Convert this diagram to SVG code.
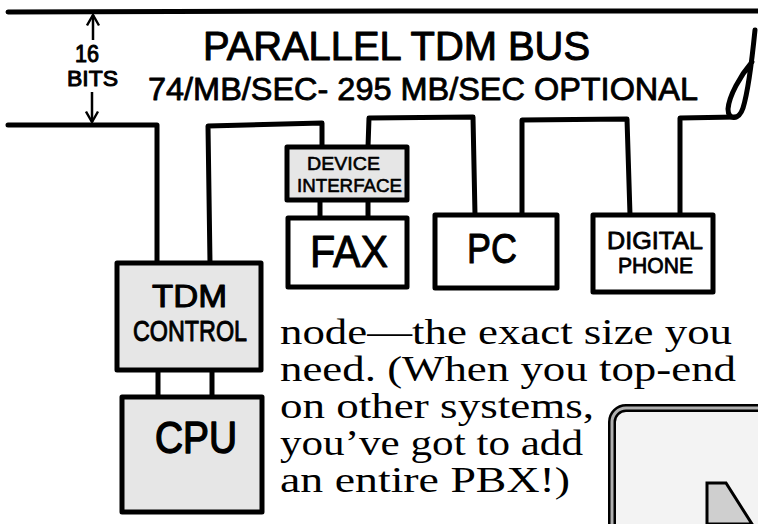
<svg xmlns="http://www.w3.org/2000/svg" width="758" height="524" viewBox="0 0 758 524">
<defs>
<style>
.bus{fill:none;stroke:#000;stroke-width:5;stroke-linecap:round;stroke-linejoin:round}
.box{stroke:#000;stroke-width:5;stroke-linejoin:round}
.gray{fill:#e6e6e6}
.white{fill:#fff}
.hand{font-family:"Liberation Sans","DejaVu Sans",sans-serif;fill:#000;stroke:#000;stroke-linejoin:round}
.prose{font-family:"Liberation Serif","DejaVu Serif",serif;font-size:36px;fill:#000}
</style>
<marker id="ah" viewBox="0 0 10 10" refX="8" refY="5" markerWidth="6" markerHeight="6" orient="auto">
<path d="M1 1 L8 5 L1 9" fill="none" stroke="#000" stroke-width="1.6"/>
</marker>
</defs>
<rect width="758" height="524" fill="#fff"/>

<g id="bus">
<path class="bus" d="M8 12 L400 11 L758 11"/>
<path class="bus" d="M755 30 C752 60 748 92 743 108 C739 120 728 121 728 109 C729 96 740 76 752 62"/>
</g>

<g id="connectors">
<path class="bus" d="M8 125 L157 125 L157 263"/>
<path class="bus" d="M210 263 L208 126 L322 123 L322 147"/>
<path class="bus" d="M368 147 L369 118 L473 117 L475 215"/>
<path class="bus" d="M522 215 L522 120 L627 119 L630 215"/>
<path class="bus" d="M680 215 L680 118 L736 117"/>
<path class="bus" d="M158 370 L158 397 M212 370 L212 397"/>
<path class="bus" d="M320 200 L320 218 M368 200 L368 218"/>
<path d="M93 40 L93 15" stroke="#000" stroke-width="2.5" marker-end="url(#ah)"/>
<path d="M92 92 L92 122" stroke="#000" stroke-width="2.5" marker-end="url(#ah)"/>
</g>

<g id="labels">
<text class="hand" x="203" y="60" font-size="40" stroke-width="1" textLength="387" lengthAdjust="spacingAndGlyphs">PARALLEL TDM BUS</text>
<text class="hand" x="148" y="100" font-size="31" stroke-width="0.8" textLength="550" lengthAdjust="spacingAndGlyphs">74/MB/SEC- 295 MB/SEC OPTIONAL</text>
<text class="hand" x="75" y="62" font-size="23" stroke-width="1" textLength="24" lengthAdjust="spacingAndGlyphs">16</text>
<text class="hand" x="67" y="86" font-size="22" stroke-width="1" textLength="51" lengthAdjust="spacingAndGlyphs">BITS</text>
</g>

<g id="tdm-control">
<rect class="box gray" x="117" y="263" width="144" height="107"/>
<text class="hand" x="152" y="307" font-size="31" stroke-width="1" textLength="75" lengthAdjust="spacingAndGlyphs">TDM</text>
<text class="hand" x="133" y="341" font-size="30" stroke-width="1" textLength="114" lengthAdjust="spacingAndGlyphs">CONTROL</text>
</g>

<g id="cpu">
<rect class="box gray" x="122" y="397" width="140" height="115"/>
<text class="hand" x="155" y="453" font-size="44" stroke-width="1.5" textLength="82" lengthAdjust="spacingAndGlyphs">CPU</text>
</g>

<g id="device-interface">
<rect class="box gray" x="287" y="147" width="120" height="53"/>
<text class="hand" x="307" y="170" font-size="19" stroke-width="0.6" textLength="73" lengthAdjust="spacingAndGlyphs">DEVICE</text>
<text class="hand" x="297" y="192" font-size="19" stroke-width="0.6" textLength="105" lengthAdjust="spacingAndGlyphs">INTERFACE</text>
</g>

<g id="fax">
<rect class="box white" x="288" y="218" width="119" height="69"/>
<text class="hand" x="310" y="267" font-size="44" stroke-width="1" textLength="78" lengthAdjust="spacingAndGlyphs">FAX</text>
</g>

<g id="pc">
<rect class="box white" x="435" y="215" width="122" height="73"/>
<text class="hand" x="467" y="263" font-size="42" stroke-width="1" textLength="50" lengthAdjust="spacingAndGlyphs">PC</text>
</g>

<g id="digital-phone">
<rect class="box white" x="593" y="215" width="120" height="77"/>
<text class="hand" x="607" y="249" font-size="24" stroke-width="0.8" textLength="96" lengthAdjust="spacingAndGlyphs">DIGITAL</text>
<text class="hand" x="618" y="273" font-size="22" stroke-width="0.8" textLength="75" lengthAdjust="spacingAndGlyphs">PHONE</text>
</g>

<g id="prose">
<text class="prose" x="280" y="344" textLength="452" lengthAdjust="spacingAndGlyphs">node—the exact size you</text>
<text class="prose" x="280" y="381" textLength="456" lengthAdjust="spacingAndGlyphs">need. (When you top-end</text>
<text class="prose" x="280" y="418" textLength="314" lengthAdjust="spacingAndGlyphs">on other systems,</text>
<text class="prose" x="280" y="455" textLength="303" lengthAdjust="spacingAndGlyphs">you’ve got to add</text>
<text class="prose" x="280" y="492" textLength="290" lengthAdjust="spacingAndGlyphs">an entire PBX!)</text>
</g>

<g id="inset">
<rect x="612" y="408" width="170" height="150" rx="14" fill="#f3f3f3" stroke="#000" stroke-width="8"/>
<rect x="612" y="408" width="170" height="150" rx="14" fill="none" stroke="#b0b0b0" stroke-width="3"/>
<polygon points="707,483 726,483 752,524 707,524" fill="#cfcfcf" stroke="#000" stroke-width="3"/>
</g>
</svg>
